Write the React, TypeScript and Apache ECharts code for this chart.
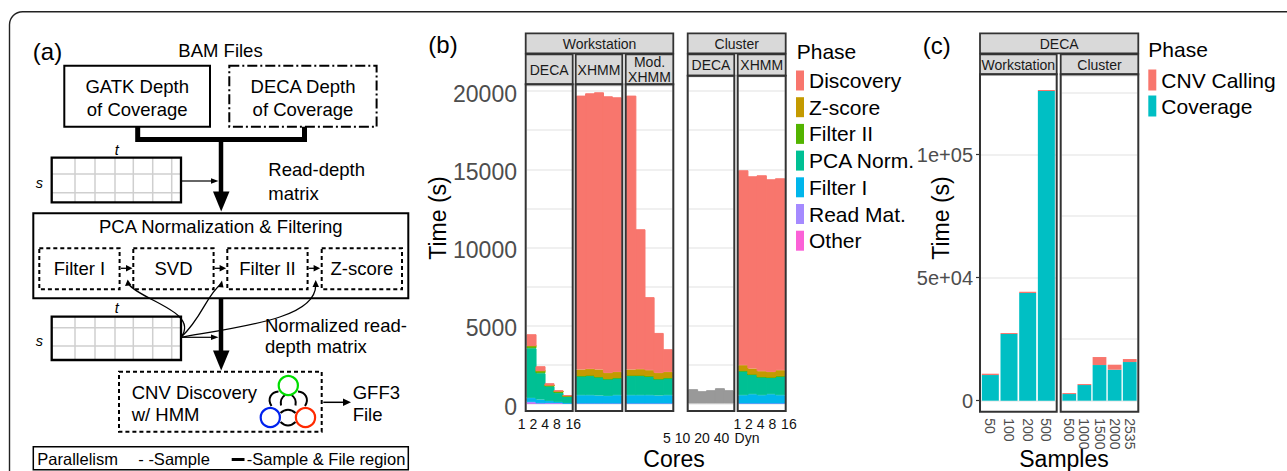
import React, { useEffect, useRef } from 'react';
import * as echarts from 'echarts';

const FONT = '"Liberation Sans", Arial, Helvetica, sans-serif';

// ---------------- data: panel (b) ----------------
const phases = ['Discovery', 'Z-score', 'Filter II', 'PCA Norm.', 'Filter I', 'Read Mat.', 'Other'];
const phaseColors = ['#F8766D', '#C49A00', '#53B400', '#00C094', '#00B6EB', '#A58AFF', '#FB61D7'];
const coreLabels = ['1', '2', '4', '8', '16'];
const clusterDecaLabels = ['5', '10', '20', '40', 'Dyn'];
const timeTicks = [0, 5000, 10000, 15000, 20000];

// seconds spent in each phase (workstation DECA, by cores)
const wsDeca: Record<string, number[]> = {
  'Discovery': [746, 300, 148, 83, 43],
  'Z-score': [0, 0, 0, 0, 0],
  'Filter II': [150, 148, 44, 88, 21],
  'PCA Norm.': [3180, 1684, 942, 576, 427],
  'Filter I': [256, 236, 126, 64, 20],
  'Read Mat.': [104, 20, 40, 40, 20],
  'Other': [0, 0, 0, 0, 0],
};
const wsXhmm: Record<string, number[]> = {
  'Discovery': [17541, 17648, 17753, 17714, 17586],
  'Z-score': [409, 428, 473, 384, 384],
  'Filter II': [0, 0, 0, 0, 0],
  'PCA Norm.': [1237, 1259, 1192, 1089, 1109],
  'Filter I': [531, 531, 512, 487, 531],
  'Read Mat.': [0, 0, 0, 0, 0],
  'Other': [0, 0, 0, 0, 0],
};
const wsModXhmm: Record<string, number[]> = {
  'Discovery': [17541, 8962, 4677, 2560, 1452],
  'Z-score': [387, 407, 386, 384, 384],
  'Filter II': [0, 0, 0, 0, 0],
  'PCA Norm.': [1259, 1259, 1216, 1064, 1109],
  'Filter I': [531, 531, 531, 512, 531],
  'Read Mat.': [0, 0, 0, 0, 0],
  'Other': [0, 0, 0, 0, 0],
};
const clDecaTotal = [915, 787, 851, 979, 851];
const clXhmm: Record<string, number[]> = {
  'Discovery': [12484, 12312, 12548, 12336, 12292],
  'Z-score': [364, 384, 364, 360, 384],
  'Filter II': [0, 0, 0, 0, 0],
  'PCA Norm.': [1557, 1261, 1173, 1069, 1217],
  'Filter I': [531, 595, 531, 595, 531],
  'Read Mat.': [0, 0, 0, 0, 0],
  'Other': [0, 0, 0, 0, 0],
};

// ---------------- data: panel (c) ----------------
const samplePhases = ['CNV Calling', 'Coverage'];
const samplePhaseColors = ['#F8766D', '#00BFC4'];
const sampleLabelsWs = ['50', '100', '200', '500'];
const sampleLabelsCl = ['500', '1000', '1500', '2000', '2535'];
const coverageWs = [10434, 27100, 43767, 125894];
const cnvWs = [542, 407, 542, 407];
const coverageCl = [2710, 6369, 14499, 12602, 15718];
const cnvCl = [407, 406, 3252, 2032, 1220];
const decaTicks = [0, 50000, 100000];
const decaTickLabels = ['0', '5e+04', '1e+05'];

// ---------------- graphic helpers ----------------
function txt(text: string, x: number, y: number, size: number, o: any = {}) {
  const align = o.align || 'center';
  const va = o.va || 'middle';
  return {
    type: 'text', x, y, z: 60, silent: true, rotation: o.rotation || 0,
    style: {
      text, fontSize: size, fontFamily: FONT, fill: o.fill || '#000',
      align, verticalAlign: va, textAlign: align, textVerticalAlign: va,
      fontStyle: o.italic ? 'italic' : 'normal',
    },
  };
}
function rect(x: number, y: number, w: number, h: number, o: any = {}) {
  return {
    type: 'rect', z: o.z ?? 50, silent: true,
    shape: { x, y, width: w, height: h, r: o.r || 0 },
    style: { fill: o.fill || 'none', stroke: o.stroke || '#000', lineWidth: o.lw ?? 2, lineDash: o.dash || null },
  };
}
function line(x1: number, y1: number, x2: number, y2: number, lw = 1.2, color = '#000') {
  return { type: 'line', z: 50, silent: true, shape: { x1, y1, x2, y2 }, style: { stroke: color, lineWidth: lw } };
}
function pline(points: number[][], lw = 2) {
  return { type: 'polyline', z: 50, silent: true, shape: { points }, style: { stroke: '#000', lineWidth: lw, fill: 'none' } };
}
function poly(points: number[][]) {
  return { type: 'polygon', z: 51, silent: true, shape: { points }, style: { fill: '#000', stroke: 'none' } };
}
function bez(x1: number, y1: number, c1x: number, c1y: number, c2x: number, c2y: number, x2: number, y2: number, lw = 1.3) {
  return {
    type: 'bezierCurve', z: 50, silent: true,
    shape: { x1, y1, cpx1: c1x, cpy1: c1y, cpx2: c2x, cpy2: c2y, x2, y2 },
    style: { stroke: '#000', lineWidth: lw, fill: 'none' },
  };
}
function circ(cx: number, cy: number, r: number, color: string) {
  return { type: 'circle', z: 50, silent: true, shape: { cx, cy, r }, style: { fill: '#fff', stroke: color, lineWidth: 2.2 } };
}
function matrix(x: number, y: number, w: number, h: number, rows: number[]) {
  const els: any[] = [rect(x, y, w, h, { fill: '#fff', stroke: 'none', lw: 0, z: 45 })];
  const cols = [23.3, 43.3, 63.3, 81.6, 101, 120];
  cols.forEach((c) => els.push(line(x + c, y, x + c, y + h, 1.5, '#cfcfcf')));
  rows.forEach((r) => els.push(line(x, y + r, x + w, y + r, 1.5, '#cfcfcf')));
  els.push(rect(x, y, w, h, { lw: 2.3 }));
  return els;
}

function buildDiagram() {
  const els: any[] = [];
  els.push(rect(9.5, 11.7, 1330, 530, { lw: 1.4, stroke: '#222', r: 13, z: 10 }));
  els.push(txt('(a)', 47.5, 51, 24));
  els.push(txt('BAM Files', 220.5, 50, 18.5));
  els.push(rect(64.3, 65.7, 145.7, 61, { lw: 2 }));
  els.push(txt('GATK Depth', 137.2, 86.5, 18.5));
  els.push(txt('of Coverage', 137.2, 109.5, 18.5));
  els.push(rect(229.3, 65.7, 147.3, 61, { lw: 2, dash: [10, 3, 2, 3] }));
  els.push(txt('DECA Depth', 303, 86.5, 18.5));
  els.push(txt('of Coverage', 303, 109.5, 18.5));
  els.push(pline([[137.7, 126.7], [137.7, 139.5], [304.5, 139.5], [304.5, 126.7]], 5));
  els.push(line(221, 139.5, 221, 193, 4.5));
  els.push(poly([[213, 191.5], [229.5, 191.5], [221.2, 211.5]]));
  matrix(51.7, 157.7, 129.3, 44.7, [16.3, 35]).forEach((e) => els.push(e));
  els.push(txt('t', 116.7, 150, 14.5, { italic: true }));
  els.push(txt('s', 39.3, 183.3, 14.5, { italic: true }));
  els.push(line(181, 181, 212, 181, 1.2));
  els.push(poly([[211, 178.3], [218.5, 181], [211, 183.7]]));
  els.push(txt('Read-depth', 268.3, 169.3, 18.5, { align: 'left' }));
  els.push(txt('matrix', 268.3, 193, 18.5, { align: 'left' }));

  els.push(rect(33.3, 213.3, 375, 85, { lw: 2 }));
  els.push(txt('PCA Normalization & Filtering', 220.8, 226.5, 18.5));
  const subs = [['Filter I', 39.3], ['SVD', 133.3], ['Filter II', 227.3], ['Z-score', 321.7]];
  subs.forEach(([name, x]: any) => {
    els.push(rect(x, 248.3, 80.3, 41, { lw: 2, dash: [4, 3] }));
    els.push(txt(name, x + 40.2, 268.5, 18.5));
  });
  [120, 213.6, 307.6].forEach((x) => {
    els.push(line(x + 1, 268.3, x + 7, 268.3, 1.3));
    els.push(poly([[x + 6, 265], [x + 12.5, 268.3], [x + 6, 271.6]]));
  });
  // curved arrows from the normalized matrix
  els.push(bez(181, 337.3, 200, 312, 140, 300, 128.5, 284));
  els.push(poly([[125, 286], [127.7, 279.5], [131.5, 285.2]]));
  els.push(bez(181, 337.3, 202, 318, 206, 296, 220.5, 284.5));
  els.push(poly([[217.5, 287], [222, 280.5], [223.5, 287.5]]));
  els.push(bez(181, 337.3, 245, 326, 316, 318, 315.7, 285));
  els.push(poly([[312.5, 287], [315.7, 280], [319, 287]]));

  els.push(line(221, 298.3, 221, 352, 4.5));
  els.push(poly([[213, 350.5], [229.5, 350.5], [221.2, 370.5]]));
  matrix(51.7, 316.7, 129.3, 43.3, [11, 29.3]).forEach((e) => els.push(e));
  els.push(txt('t', 116.7, 308.3, 14.5, { italic: true }));
  els.push(txt('s', 39.3, 340.7, 14.5, { italic: true }));
  els.push(line(181, 337.3, 212, 337.3, 1.2));
  els.push(poly([[211, 334.6], [218.5, 337.3], [211, 340]]));
  els.push(txt('Normalized read-', 265, 325, 18.5, { align: 'left' }));
  els.push(txt('depth matrix', 265, 346.7, 18.5, { align: 'left' }));

  els.push(rect(119, 371.7, 202.7, 60, { lw: 2, dash: [4, 3] }));
  els.push(txt('CNV Discovery', 131.7, 392.5, 18.5, { align: 'left' }));
  els.push(txt('w/ HMM', 131.7, 414.5, 18.5, { align: 'left' }));
  // HMM arrows
  els.push(bez(271.5, 406, 267, 399, 271, 392, 278.5, 391.5, 2));
  els.push(bez(281, 405.5, 280, 400, 282, 397, 285, 395, 2));
  els.push(bez(305, 406, 309.5, 399, 305.5, 392, 298, 391.5, 2));
  els.push(bez(295.5, 405.5, 296.5, 400, 294.5, 397, 291.5, 395, 2));
  els.push(bez(280.5, 413, 285, 408.5, 291, 408.5, 295.5, 413, 2));
  els.push(bez(280.5, 422, 285, 426.5, 291, 426.5, 295.5, 422, 2));
  els.push(circ(288.3, 385.5, 9.6, '#00dd00'));
  els.push(circ(270.3, 417.5, 9.6, '#0022ee'));
  els.push(circ(305.5, 417.5, 9.6, '#ff2a00'));
  els.push(line(323.3, 402.3, 344, 402.3, 1.5));
  els.push(poly([[343, 398.5], [351, 402.3], [343, 406.1]]));
  els.push(txt('GFF3', 352.7, 392.5, 18.5, { align: 'left' }));
  els.push(txt('File', 352.7, 414.5, 18.5, { align: 'left' }));

  els.push(rect(33.3, 446.7, 375, 23, { lw: 1.5 }));
  els.push(txt('Parallelism', 37.3, 459.3, 16.5, { align: 'left' }));
  els.push(txt('- -Sample', 138.3, 459.3, 16.5, { align: 'left' }));
  els.push(line(231.7, 459.5, 244.5, 459.5, 3));
  els.push(txt('-Sample & File region', 246.7, 459.3, 16.5, { align: 'left' }));
  return els;
}

function buildFrames() {
  const els: any[] = [];
  const sf = { fill: '#d9d9d9', stroke: '#333', lw: 1.8, z: 40 };
  const sc = '#1a1a1a';
  const bf = { stroke: '#333', lw: 2, z: 70 };
  // panel (b)
  els.push(txt('(b)', 443, 44, 24));
  els.push(rect(525.7, 33.3, 147.6, 20, sf));
  els.push(txt('Workstation', 599.5, 43.5, 14, { fill: sc }));
  els.push(rect(525.7, 54.3, 47, 30, sf));
  els.push(txt('DECA', 549.2, 69.5, 14, { fill: sc }));
  els.push(rect(575.7, 54.3, 46.6, 30, sf));
  els.push(txt('XHMM', 599, 69.5, 14, { fill: sc }));
  els.push(rect(625.7, 54.3, 47.6, 30, sf));
  els.push(txt('Mod.', 649.5, 62, 14, { fill: sc }));
  els.push(txt('XHMM', 649.5, 76.5, 14, { fill: sc }));
  els.push(rect(687.7, 33.3, 98, 20, sf));
  els.push(txt('Cluster', 736.7, 43.5, 14, { fill: sc }));
  els.push(rect(687.7, 54.3, 46.6, 21.4, sf));
  els.push(txt('DECA', 711, 65, 14, { fill: sc }));
  els.push(rect(737.7, 54.3, 48, 21.4, sf));
  els.push(txt('XHMM', 761.7, 65, 14, { fill: sc }));
  els.push(rect(525.7, 84.3, 47, 326.7, bf));
  els.push(rect(575.7, 84.3, 46.6, 326.7, bf));
  els.push(rect(625.7, 84.3, 47.6, 326.7, bf));
  els.push(rect(687.7, 75.7, 46.6, 335.3, bf));
  els.push(rect(737.7, 75.7, 48, 335.3, bf));
  els.push(txt('Time (s)', 438, 218, 23, { rotation: Math.PI / 2 }));
  els.push(txt('Cores', 674, 459, 23));
  els.push(txt('Phase', 796.7, 51.7, 21, { align: 'left' }));
  // panel (c)
  els.push(txt('(c)', 936.7, 45, 24));
  els.push(rect(980, 33.3, 158.3, 20, sf));
  els.push(txt('DECA', 1059.2, 43.5, 14, { fill: sc }));
  els.push(rect(980, 54.3, 76.7, 20, sf));
  els.push(txt('Workstation', 1018.3, 64.5, 14, { fill: sc }));
  els.push(rect(1060.7, 54.3, 77.6, 20, sf));
  els.push(txt('Cluster', 1099.5, 64.5, 14, { fill: sc }));
  els.push(rect(980, 74.3, 76.7, 337.4, bf));
  els.push(rect(1060.7, 74.3, 77.6, 337.4, bf));
  els.push(txt('Time (s)', 940.5, 218, 23, { rotation: Math.PI / 2 }));
  els.push(txt('Samples', 1064, 459, 23));
  els.push(txt('Phase', 1148.3, 49.3, 21, { align: 'left' }));
  return els;
}

function buildOption() {
  const B_ZERO = 403.5;
  const B_PX = 312.3 / 20000;
  const wsTop = 85.3;
  const clTop = 76.7;
  const C_ZERO = 400.7;
  const C_TOP = 75.3;
  const C_PX = 123 / 50000;

  const grids = [
    { left: 527, width: 45, top: wsTop, height: B_ZERO - wsTop },
    { left: 576.7, width: 44.6, top: wsTop, height: B_ZERO - wsTop },
    { left: 626.7, width: 45.6, top: wsTop, height: B_ZERO - wsTop },
    { left: 688.7, width: 44.6, top: clTop, height: B_ZERO - clTop },
    { left: 738.7, width: 46, top: clTop, height: B_ZERO - clTop },
    { left: 981, width: 74.7, top: C_TOP, height: C_ZERO - C_TOP },
    { left: 1061.7, width: 75.6, top: C_TOP, height: C_ZERO - C_TOP },
    { left: 515.85, width: 58.5, top: 400, height: 10 },
    { left: 653.25, width: 97.5, top: 414, height: 10 },
    { left: 731.45, width: 58.5, top: 400, height: 10 },
  ].map((g) => ({ ...g, containLabel: false, outerBoundsMode: 'none' }));

  const hiddenCat = (gi: number, data: string[]) => ({
    gridIndex: gi, type: 'category', data,
    axisLine: { show: false }, axisTick: { show: false }, axisLabel: { show: false },
    splitLine: { show: false }, splitArea: { show: false },
  });
  // per-label left padding (px) so the labels sit like a spaced text row
  const labelCat = (gi: number, data: string[], pads: number[]) => {
    const rich: any = {};
    pads.forEach((p, i) => {
      rich['p' + i] = { fontSize: 14, color: '#111', fontFamily: FONT, padding: [0, 0, 0, p] };
    });
    return {
      gridIndex: gi, type: 'category', data,
      axisLine: { show: false }, axisTick: { show: false }, splitLine: { show: false },
      axisLabel: {
        show: true, interval: 0, fontSize: 14, color: '#111', fontFamily: FONT, margin: 7,
        formatter: (v: string, i: number) => (pads[i] ? `{p${i}|${v}}` : v),
        rich,
      },
    };
  };
  const xAxis: any[] = [
    hiddenCat(0, coreLabels),
    hiddenCat(1, coreLabels),
    hiddenCat(2, coreLabels),
    hiddenCat(3, clusterDecaLabels),
    hiddenCat(4, coreLabels),
    {
      gridIndex: 5, type: 'category', data: sampleLabelsWs,
      axisLine: { show: false }, axisTick: { show: false },
      axisLabel: { interval: 0, rotate: -90, fontSize: 14, color: '#4d4d4d', fontFamily: FONT, margin: 17.6 },
    },
    {
      gridIndex: 6, type: 'category', data: sampleLabelsCl,
      axisLine: { show: false }, axisTick: { show: false },
      axisLabel: { interval: 0, rotate: -90, fontSize: 14, color: '#4d4d4d', fontFamily: FONT, margin: 17.6 },
    },
    labelCat(7, coreLabels, [0, 0, 0, 0, 9.6]),
    labelCat(8, clusterDecaLabels, [8, 0, 0, 0, 12]),
    labelCat(9, coreLabels, [0, 0, 0, 0, 9.6]),
  ];

  const gridLine = { show: true, lineStyle: { color: '#ebebeb', width: 1.5 } };
  const yB = (gi: number, max: number, labels: boolean) => ({
    gridIndex: gi, type: 'value', min: 0, max, interval: 2500,
    axisLine: { show: false }, axisTick: { show: false },
    axisLabel: labels
      ? {
          show: true, customValues: timeTicks,
          formatter: (v: number) => (timeTicks.indexOf(v) >= 0 ? `{t|${v}}` : ''),
          rich: { t: { fontSize: 23, color: '#4d4d4d', fontFamily: FONT, padding: [6, 0, 0, 0] } },
          fontSize: 23, color: '#4d4d4d', fontFamily: FONT, margin: 10,
        }
      : { show: false },
    splitLine: gridLine,
  });
  const yC = (gi: number, labels: boolean) => ({
    gridIndex: gi, type: 'value', min: 0, max: (C_ZERO - C_TOP) / C_PX, interval: 25000,
    axisLine: { show: false },
    axisTick: labels
      ? { show: true, customValues: decaTicks, length: 5, lineStyle: { color: '#333', width: 1.2 } }
      : { show: false },
    axisLabel: labels
      ? {
          show: true, customValues: decaTicks,
          formatter: (v: number) => {
            const i = decaTicks.indexOf(v);
            return i >= 0 ? decaTickLabels[i] : '';
          },
          fontSize: 20, color: '#4d4d4d', fontFamily: FONT, margin: 8,
        }
      : { show: false },
    splitLine: gridLine,
  });
  const hiddenY = (gi: number) => ({ gridIndex: gi, type: 'value', show: false });
  const yAxis: any[] = [
    yB(0, (B_ZERO - wsTop) / B_PX, true),
    yB(1, (B_ZERO - wsTop) / B_PX, false),
    yB(2, (B_ZERO - wsTop) / B_PX, false),
    yB(3, (B_ZERO - clTop) / B_PX, false),
    yB(4, (B_ZERO - clTop) / B_PX, false),
    yC(5, true),
    yC(6, false),
    hiddenY(7),
    hiddenY(8),
    hiddenY(9),
  ];

  const bottomToTop = [...phases].reverse();
  const phaseSeries = (d: Record<string, number[]>, gi: number) =>
    bottomToTop.map((p) => {
      const c = phaseColors[phases.indexOf(p)];
      return {
        type: 'bar', name: p, xAxisIndex: gi, yAxisIndex: gi, stack: 'g' + gi,
        data: d[p], barWidth: '112%',
        itemStyle: { color: c, borderColor: c, borderWidth: 1, opacity: 1 },
        emphasis: { disabled: true }, silent: true,
      };
    });
  const sampleSeries = (cov: number[], cnv: number[], gi: number) => [
    { name: 'Coverage', data: cov, color: samplePhaseColors[1] },
    { name: 'CNV Calling', data: cnv, color: samplePhaseColors[0] },
  ].map((s) => ({
    type: 'bar', name: s.name, xAxisIndex: gi, yAxisIndex: gi, stack: 'g' + gi,
    data: s.data, barCategoryGap: '9%', itemStyle: { color: s.color },
    emphasis: { disabled: true }, silent: true,
  }));

  const series: any[] = [
    ...phaseSeries(wsDeca, 0),
    ...phaseSeries(wsXhmm, 1),
    ...phaseSeries(wsModXhmm, 2),
    {
      type: 'bar', name: 'Unassigned', xAxisIndex: 3, yAxisIndex: 3, data: clDecaTotal,
      barWidth: '112%', itemStyle: { color: '#999999', borderColor: '#999999', borderWidth: 1 },
      emphasis: { disabled: true }, silent: true,
    },
    ...phaseSeries(clXhmm, 4),
    ...sampleSeries(coverageWs, cnvWs, 5),
    ...sampleSeries(coverageCl, cnvCl, 6),
  ];

  return {
    animation: false,
    backgroundColor: '#ffffff',
    textStyle: { fontFamily: FONT },
    grid: grids,
    xAxis,
    yAxis,
    series,
    legend: [
      {
        data: phases, orient: 'vertical', left: 796, top: 70, padding: 0,
        itemWidth: 8, itemHeight: 20, itemGap: 5.7, icon: 'rect', selectedMode: false,
        itemStyle: { borderWidth: 0 },
        textStyle: { fontSize: 21, color: '#000', fontFamily: FONT },
      },
      {
        data: samplePhases, orient: 'vertical', left: 1148.3, top: 69.5, padding: 0,
        itemWidth: 8, itemHeight: 21, itemGap: 5, icon: 'rect', selectedMode: false,
        itemStyle: { borderWidth: 0 },
        textStyle: { fontSize: 21, color: '#000', fontFamily: FONT },
      },
    ],
    graphic: { elements: [...buildDiagram(), ...buildFrames()] },
  };
}

export default function App() {
  const ref = useRef<HTMLDivElement>(null);
  useEffect(() => {
    document.body.style.margin = '0';
    if (!ref.current) return;
    const chart = echarts.init(ref.current, undefined, { renderer: 'svg' });
    chart.setOption(buildOption() as any);
    return () => chart.dispose();
  }, []);
  return <div ref={ref} style={{ width: 1287, height: 471 }} />;
}
